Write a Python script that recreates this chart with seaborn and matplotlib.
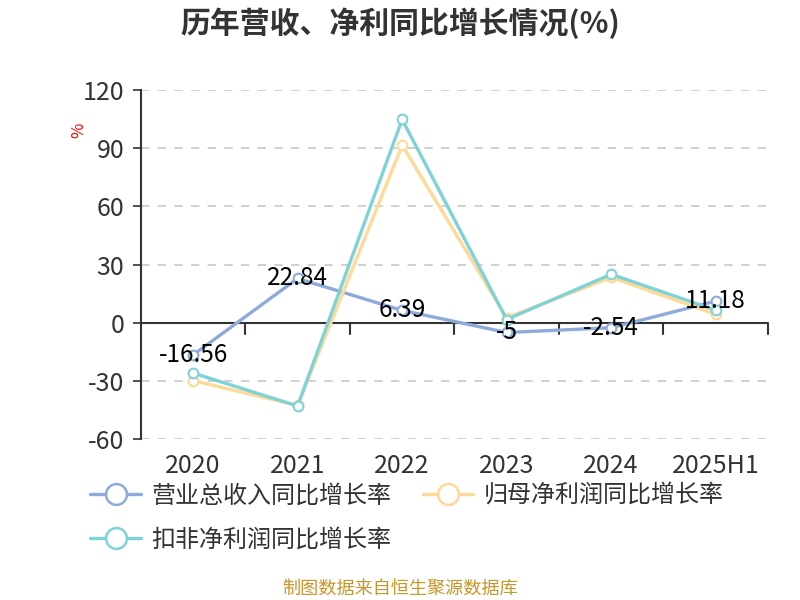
import numpy as np
import pandas as pd
import seaborn as sns
import matplotlib.pyplot as plt
from matplotlib.lines import Line2D
import matplotlib.transforms as mtransforms

# ==========================================
# 数据
# ==========================================
years = ['2020', '2021', '2022', '2023', '2024', '2025H1']
revenue_yoy = [-16.56, 22.84, 6.39, -5, -2.54, 11.18]
netprofit_yoy = [-29.8, -42.6, 91.5, 2.6, 23.4, 4.4]
deducted_yoy = [-25.9, -42.9, 104.8, 1.7, 25.0, 6.5]
series_names = ['营业总收入同比增长率', '归母净利润同比增长率', '扣非净利润同比增长率']
colors = ['#8eaadb', '#ffd997', '#7fd3d6']
yticks = [-60, -30, 0, 30, 60, 90, 120]

df = pd.DataFrame({
    'year': years * 3,
    'value': revenue_yoy + netprofit_yoy + deducted_yoy,
    'series': [series_names[0]] * 6 + [series_names[1]] * 6 + [series_names[2]] * 6,
})
df['x'] = df['year'].map({y: i for i, y in enumerate(years)})

sns.set_theme(style='white')
plt.rcParams['font.family'] = ['Noto Sans CJK SC', 'DejaVu Sans']

fig = plt.figure(figsize=(8, 6), dpi=100)
ax = fig.add_axes([0.176, 0.268, 0.784, 0.582])

sns.lineplot(data=df, x='x', y='value', hue='series', hue_order=series_names,
             palette=colors, linewidth=2.4, marker='o', markersize=7,
             markerfacecolor='white', markeredgewidth=1.5, legend=False, ax=ax)
# 标记边框颜色跟随线条
for line, c in zip(ax.lines, colors):
    line.set_markeredgecolor(c)

# 数据标签（仅营收）
for i, v in enumerate(revenue_yoy):
    ax.text(i, v, f'{v:g}', ha='center', va='center', fontsize=17.5,
            color='black', zorder=5)

ax.set_xlim(-0.5, len(years) - 0.5)
ax.set_ylim(-60, 120)
ax.set_yticks(yticks)
ax.set_yticklabels([str(t) for t in yticks], fontsize=18, color='#333333')
ax.set_xticks(range(len(years)))
ax.set_xticklabels(years, fontsize=18, color='#333333')
ax.tick_params(axis='x', length=0, pad=10)
ax.tick_params(axis='y', length=6, width=1.2, color='#333333', left=True, pad=6)
ax.set_xlabel('')
ax.set_ylabel('%', color='red', fontsize=12, rotation=90)
ax.yaxis.set_label_coords(-0.085, 0.885)

for t in yticks:
    if t != 0:
        ax.axhline(t, color='#c8c8c8', linestyle=(0, (5, 5)), linewidth=1.2, zorder=0)
ax.axhline(0, color='#333333', linewidth=1.5, zorder=1)

# 零轴上的刻度
trans = mtransforms.blended_transform_factory(ax.transData, ax.transData)
for b in np.arange(len(years) + 1) - 0.5:
    if b > -0.5:
        ax.plot([b, b], [0, -6], color='#333333', linewidth=1.5, transform=trans,
                clip_on=False, zorder=1)

for s in ['top', 'right', 'bottom']:
    ax.spines[s].set_visible(False)
ax.spines['left'].set_color('#333333')
ax.spines['left'].set_linewidth(1.5)

fig.text(0.5, 0.962, '历年营收、净利同比增长情况(%)', ha='center', va='center',
         fontsize=21.5, fontweight='bold', color='#333333')

handles = [Line2D([0], [0], color=c, linewidth=2.4, marker='o', markersize=15,
                  markerfacecolor='white', markeredgecolor=c, markeredgewidth=1.8)
           for c in colors]
# 按列填充，调整顺序使其按行排列
order = [0, 2, 1]
fig.legend([handles[i] for i in order], [series_names[i] for i in order],
           loc='upper left', bbox_to_anchor=(0.086, 0.232),
           ncol=2, frameon=False, fontsize=17.3, handlelength=2.1, handletextpad=0.45,
           columnspacing=1.3, labelspacing=0.75, labelcolor='#333333')

fig.text(0.5, 0.017, '制图数据来自恒生聚源数据库', ha='center', va='center',
         fontsize=13.1, color='#c8962a')

fig.savefig('out.png', dpi=100)
